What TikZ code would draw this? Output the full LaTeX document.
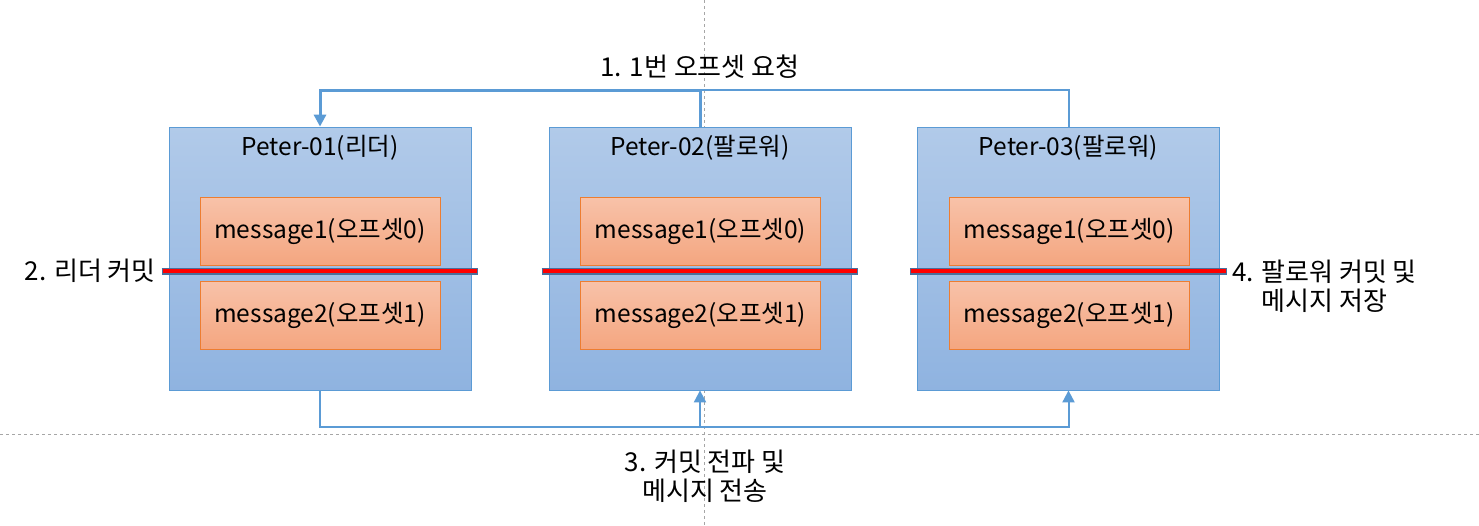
\documentclass[tikz,border=0pt]{standalone}
\usepackage{fontspec}
\setmainfont{Noto Sans CJK KR}
\usetikzlibrary{arrows.meta}
\definecolor{boxtop}{HTML}{B1CAE9}
\definecolor{boxbot}{HTML}{8FB3E0}
\definecolor{boxline}{HTML}{5B9BD5}
\definecolor{msgtop}{HTML}{F8C2A9}
\definecolor{msgbot}{HTML}{F4A680}
\definecolor{msgline}{HTML}{ED7D31}
\definecolor{conn}{HTML}{5B9BD5}
\definecolor{barout}{HTML}{4A6F9C}
\tikzset{
  broker/.style={draw=boxline, line width=0.8pt, top color=boxtop, bottom color=boxbot, minimum width=302pt, minimum height=263pt, inner sep=0pt},
  msg/.style={draw=msgline, line width=0.8pt, top color=msgtop, bottom color=msgbot, minimum width=240pt, minimum height=68pt, inner sep=0pt, font=\fontsize{24.5}{28}\selectfont},
  ttl/.style={font=\fontsize{24.5}{28}\selectfont, inner sep=0pt},
  lbl/.style={font=\fontsize{26}{29}\selectfont, align=center, inner sep=0pt},
  conline/.style={draw=conn, line width=2pt},
  tip/.style={-{Triangle[width=12pt,length=12pt]}},
  guide/.style={draw=gray!70, dashed, line width=0.7pt},
}
\begin{document}
\begin{tikzpicture}[x=1pt,y=-1pt]
\useasboundingbox[fill=white] (0,0) rectangle (1479,525);
% guides
\draw[guide] (704,0) -- (704,525);
\draw[guide] (0,434) -- (1479,434);
% brokers
\node[broker] (p1) at (320,258.5) {};
\node[broker] (p2) at (700,258.5) {};
\node[broker] (p3) at (1068.5,258.5) {};
\node[ttl] (t1) at (320,148) {Peter-01(리더)};
\node[ttl] (t2) at (700,148) {Peter-02(팔로워)};
\node[ttl] (t3) at (1068.5,148) {Peter-03(팔로워)};
\node[msg] (m11) at (320,231) {message1(오프셋0)};
\node[msg] (m12) at (320,315) {message2(오프셋1)};
\node[msg] (m21) at (700.5,231) {message1(오프셋0)};
\node[msg] (m22) at (700.5,315) {message2(오프셋1)};
\node[msg] (m31) at (1069,231) {message1(오프셋0)};
\node[msg] (m32) at (1069,315) {message2(오프셋1)};
% commit bars
\foreach \p in {p1,p2,p3}{
  \draw[barout, line width=7pt] ([xshift=-7pt]\p.west |- 0,271) -- ([xshift=7pt]\p.east |- 0,271);
  \draw[red, line width=4.5pt] ([xshift=-6pt]\p.west |- 0,271) -- ([xshift=6pt]\p.east |- 0,271);
}
% top connectors
\coordinate (top2) at (700,90);
\draw[conline] (p3.north) |- (top2);
\draw[conline, line width=3pt, tip] (p2.north) |- (p1.north |- top2) -- (p1.north);
% bottom connectors
\coordinate (bot) at (320,427);
\draw[conline, tip] (p1.south) |- (bot -| p2.south) -- (p2.south);
\draw[conline, tip] (bot -| p2.south) -| (p3.south);
% labels
\node[lbl] (l1) at (700,67) {1. 1번 오프셋 요청};
\node[lbl, anchor=east] (l2) at (156,271) {2. 리더 커밋};
\node[lbl, anchor=west] (l4) at (1232,286) {4. 팔로워 커밋 및\\메시지 저장};
\node[lbl] (l3) at (705,476) {3. 커밋 전파 및\\메시지 전송};
\end{tikzpicture}
\end{document}
